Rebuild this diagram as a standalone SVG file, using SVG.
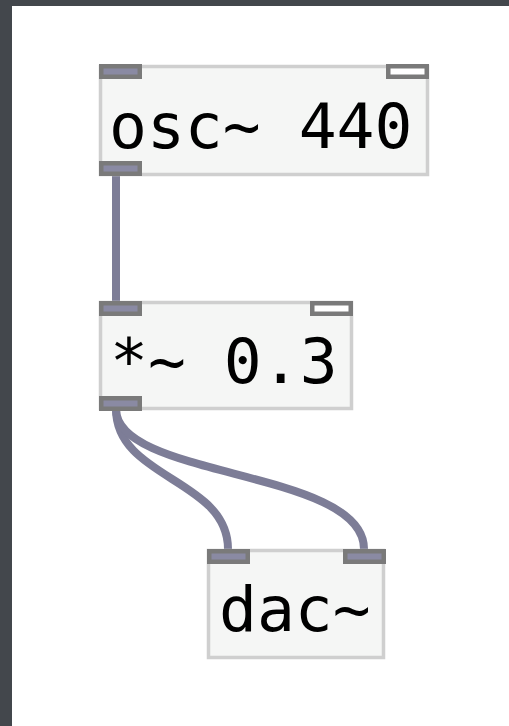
<svg xmlns="http://www.w3.org/2000/svg" width="509" height="726" viewBox="0 0 509 726">
<style>
.box{fill:#f5f6f5;stroke:#cfcfcf;stroke-width:3.5}
.sig{fill:#8a8aa3;stroke:#7a7a7a;stroke-width:4.5}
.ctl{fill:#ffffff;stroke:#7a7a7a;stroke-width:4.5}
.wire{fill:none;stroke:#7d7d97;stroke-width:8}
.lbl{font-family:"DejaVu Sans Mono",monospace;font-size:63px;fill:#000}
</style>
<rect x="0" y="0" width="509" height="726" fill="#43474c"/>
<rect x="12" y="6" width="497" height="720" fill="#ffffff"/>
<g id="connectors">
<path class="wire" d="M116,175 L116,301"/>
<path class="wire" d="M116,409 C116,479 228,479 228,549"/>
<path class="wire" d="M116,409 C116,479 364,469 364,549"/>
</g>
<g id="osc">
<rect class="box" x="100.5" y="66.5" width="327" height="108"/>
<rect class="sig" x="101.25" y="66.25" width="38.5" height="10.5"/>
<rect class="ctl" x="388.25" y="66.25" width="38.5" height="10.5"/>
<rect class="sig" x="101.25" y="163.25" width="38.5" height="10.5"/>
<text class="lbl" x="109" y="148">osc~ 440</text>
</g>
<g id="mul">
<rect class="box" x="100.5" y="302.5" width="251" height="106"/>
<rect class="sig" x="101.25" y="303.25" width="38.5" height="10.5"/>
<rect class="ctl" x="312.25" y="303.25" width="38.5" height="10.5"/>
<rect class="sig" x="101.25" y="398.25" width="38.5" height="10.5"/>
<text class="lbl" x="110" y="383">*~ 0.3</text>
</g>
<g id="dac">
<rect class="box" x="208.5" y="550.5" width="175" height="107"/>
<rect class="sig" x="209.25" y="551.25" width="38.5" height="10.5"/>
<rect class="sig" x="345.25" y="551.25" width="38.5" height="10.5"/>
<text class="lbl" x="219" y="631">dac~</text>
</g>
</svg>
